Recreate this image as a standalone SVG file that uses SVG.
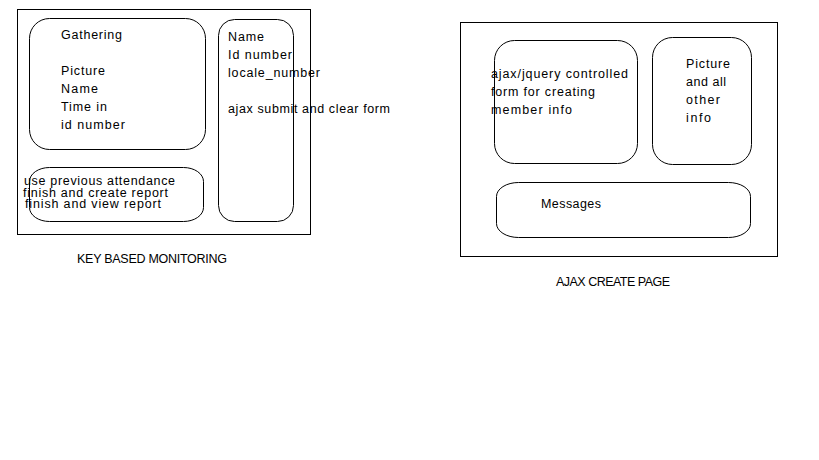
<svg xmlns="http://www.w3.org/2000/svg" width="819" height="460" viewBox="0 0 819 460">
<style>
.box{fill:none;stroke:#000;stroke-width:1}
.t{font-family:"Liberation Sans",Arial,sans-serif;font-size:12.5px;fill:#000}
</style>
<rect width="819" height="460" fill="#fff"/>
<g id="key-based-monitoring">
<rect class="box" x="17.5" y="9.5" width="293" height="225"/>
<text class="t" x="77" y="263" textLength="150">KEY BASED MONITORING</text>
</g>
<g id="gathering">
<rect class="box" x="29.5" y="18.5" width="176" height="131" rx="20" ry="20"/>
<text class="t" x="61" y="39" textLength="61">Gathering</text>
<text class="t" x="61" y="75" textLength="44">Picture</text>
<text class="t" x="61" y="93" textLength="37">Name</text>
<text class="t" x="61" y="111" textLength="46">Time in</text>
<text class="t" x="61" y="129" textLength="64">id number</text>
</g>
<g id="reports">
<rect class="box" x="29.5" y="167.5" width="174" height="54" rx="20" ry="14"/>
<text class="t" x="24" y="185" textLength="151">use previous attendance</text>
<text class="t" x="23" y="197" textLength="145">finish and create report</text>
<text class="t" x="25" y="208" textLength="136">finish and view report</text>
</g>
<g id="entry-form">
<rect class="box" x="218.5" y="19.5" width="75" height="202" rx="16" ry="16"/>
<text class="t" x="228" y="41" textLength="36">Name</text>
<text class="t" x="228" y="59" textLength="64">Id number</text>
<text class="t" x="228" y="77" textLength="92">locale_number</text>
<text class="t" x="228" y="113" textLength="162">ajax submit and clear form</text>
</g>
<g id="ajax-create-page">
<rect class="box" x="460.5" y="22.5" width="317" height="234"/>
<text class="t" x="556" y="286" textLength="114">AJAX CREATE PAGE</text>
</g>
<g id="member-form">
<rect class="box" x="494.5" y="40.5" width="143" height="123" rx="20" ry="20"/>
<text class="t" x="491" y="78" textLength="137">ajax/jquery controlled</text>
<text class="t" x="491" y="96" textLength="104">form for creating</text>
<text class="t" x="491" y="114" textLength="81">member info</text>
</g>
<g id="picture-info">
<rect class="box" x="652.5" y="37.5" width="99" height="127" rx="20" ry="20"/>
<text class="t" x="686" y="68" textLength="44">Picture</text>
<text class="t" x="686" y="86" textLength="40">and all</text>
<text class="t" x="686" y="104" textLength="34">other</text>
<text class="t" x="686" y="122" textLength="25">info</text>
</g>
<g id="messages">
<rect class="box" x="496.5" y="182.5" width="254" height="55" rx="22" ry="14"/>
<text class="t" x="541" y="208" textLength="60">Messages</text>
</g>
<g id="connectors"></g>
</svg>
